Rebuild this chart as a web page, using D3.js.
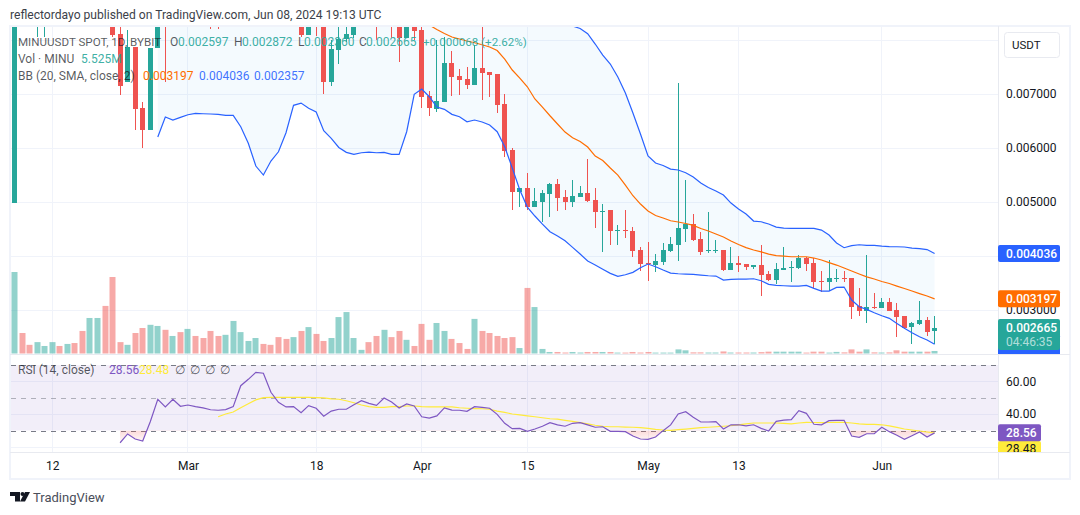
<!DOCTYPE html>
<html>
<head>
<meta charset="utf-8">
<title>MINUUSDT daily chart</title>
<script src="https://cdn.jsdelivr.net/npm/d3@7/dist/d3.min.js"></script>
<style>
html,body{margin:0;padding:0;background:#fff;}
svg{display:block;font-family:Roboto,"Noto Sans",sans-serif;}
</style>
</head>
<body>
<svg id="chart" width="1080" height="515"></svg>
<script>
// Daily candles, Feb 7 to Jun 8 2024. Prices are in millionths of a USDT.
const firstDay = new Date(Date.UTC(2024, 1, 7));
const opens = [
4971,10500,10000,9300,9700,9900,10100,9900,10300,10000,
9500,10800,11600,9600,8101,7212,7861,6731,6323,7842,
9300,8700,9000,8600,8900,8700,8800,8600,8400,8700,
9300,9800,10000,10400,10200,9900,9300,9000,9100,8083,
8700,8400,7212,7805,8009,8083,8500,8800,8600,8300,
8700,8400,8027,8400,8175,6953,6722,6842,7564,7323,
7268,7157,7472,7398,7361,6805,5953,5175,5249,4897,
4990,5138,5323,5083,4990,5083,5157,5027,4805,4842,
4453,4471,4453,4101,3860,3823,3879,4082,4194,4490,
4582,4305,4082,4082,4101,3731,3860,3842,3786,3823,
3657,3545,3731,3768,3768,3953,3860,3527,3508,3564,
3582,3582,3064,2971,3045,3027,3138,2990,2879,2675,
2730,2805,2597];
const highs = [
11200,10900,10100,10300,10400,10600,10300,10800,10500,10200,
11400,12400,13000,10000,8500,8175,7861,6842,7842,9500,
9600,9200,9200,9100,9000,8800,9000,8700,8900,9600,
10200,10300,10900,10600,10300,10000,9500,9700,9300,9000,
8800,8600,8000,8230,8300,8700,9000,8900,8700,8800,
8800,8600,8600,8500,8300,7046,7990,8046,7786,7453,
7490,7897,8230,7398,7361,6990,5990,5249,5527,5249,
5212,5342,5416,5212,5397,5286,5786,5249,4953,4842,
4564,4842,4527,4157,4249,4027,4231,4342,7194,5397,
4768,4434,4805,4286,4101,4157,4000,3842,3823,4194,
3712,3860,4157,3897,4008,3971,3953,3712,3916,3749,
3712,3582,3397,4008,3305,3212,3212,3119,2879,2767,
3157,2860,2872];
const lows = [
4971,9500,9100,8046,8046,9400,9500,9700,9600,9000,
9300,10200,9000,8046,6972,7212,6323,5990,6323,7842,
7212,8450,8300,8400,8500,8300,8194,8194,8300,8500,
9000,9500,9800,9900,9700,9000,8800,8700,8046,8083,
8064,6990,7138,7546,7953,8027,8300,8300,7990,8250,
8027,7583,8027,7990,6731,6583,6657,6842,6953,6972,
7083,7157,6879,6935,6638,5823,4842,4897,4842,4897,
4620,4712,4823,4842,4897,5083,4990,4508,4064,4194,
4194,4323,3971,3712,3527,3693,3823,4064,3897,4249,
4268,4008,4045,4045,3712,3731,3693,3731,3749,3249,
3527,3471,3731,3508,3749,3712,3397,3323,3342,3508,
3508,2823,2879,2749,3008,3027,2971,2490,2638,2360,
2712,2508,2360];
const closes = [
10500,10000,9500,9700,9900,10100,9900,10300,10000,9500,
10800,11600,9600,8083,7138,7861,6712,6323,7842,9000,
8700,9000,8600,8900,8700,8500,8500,8400,8700,9300,
9800,10000,10400,10200,9900,9300,9000,9400,8083,8700,
8400,7212,7824,8009,8101,8500,8800,8600,8300,8700,
8300,8027,8400,8157,6935,6731,6860,7564,7305,7249,
7157,7472,7379,7342,6786,5934,5175,5249,4897,5008,
5157,5323,5064,4990,5101,5157,5008,4805,4823,4453,
4471,4453,4082,3842,3842,3897,4101,4212,4508,4582,
4286,4064,4101,4101,3731,3860,3823,3786,3823,3638,
3545,3749,3768,3786,3953,3842,3508,3508,3582,3582,
3564,3045,2971,3045,3027,3138,2971,2860,2657,2749,
2805,2582,2665];
// Traded volume in millions of MINU.
const volumes = [
179,45,19,25,16.5,25,16.5,21,23,49.5,
78,78,104.5,168,25,19,45,56,63,60.5,
52,38.5,47,54,38.5,34,49.5,38.5,41,71.5,
47,27.5,34,21,19,36,32,36,49.5,58,
43,27.5,34,80,91,34,8,25,38.5,52,
36,49.5,30,16.5,65,30,67,49.5,32,23,
10,76,49.5,45,38.5,34,36,12,144,102,
10,3.3,3.3,2.2,3.3,2.2,3.3,3.3,3.3,3.3,
2,2,3.3,2.2,3.3,2,2,2,9,7,
2.5,2.5,2.2,2.2,4.5,2.2,2.2,2.2,2.2,3,
4,4,4,4,4,2,4,4,2,3.5,
2.5,9,4,9,2.5,2.2,2.5,7,4,4,
4,4,5.525];

// Bollinger bands (20, SMA, close, 2); the series begin at candle 19.
const bbStart = 19;
const bbUpper = [
13600,13200,13190,13080,12970,12890,12840,12780,12730,12680,
12600,12500,12400,12300,12200,12100,12000,11900,11800,11700,
11600,11500,11400,11300,11200,11100,11000,10900,10800,10700,
10600,10500,10400,10300,10200,9800,9596,9621,9515,9478,
9448,9467,9371,9334,9306,9300,9262,9250,9360,9300,
9050,8850,8600,8400,8300,8250,
8203,8107,7916,7712,7546,7305,7009,6638,6249,5842,
5712,5666,5601,5583,5533,5453,5342,5258,5194,5120,
4971,4860,4768,4638,4625,4583,4527,4508,4503,4503,
4503,4503,4471,4379,4231,4144,4184,4199,4188,4188,
4175,4166,4162,4157,4138,4129,4110,4036];
const bbBasis = [
9900,9880,9850,9820,9790,9760,9730,9700,9670,9640,
9600,9560,9520,9480,9440,9400,9360,9320,9280,9240,
9200,9160,9120,9080,9040,9000,8960,8920,8880,8840,
8800,8730,8650,8550,8450,8323,
8268,8185,8111,8046,8009,7972,7940,7903,7861,7796,
7638,7435,7286,7125,6898,6749,6588,6435,6286,6181,
6110,6009,5842,5758,5620,5490,5305,5107,4953,4823,
4740,4694,4644,4620,4592,4558,4499,4453,4397,4342,
4268,4203,4147,4101,4068,4027,3999,3990,3977,3977,
3977,3953,3916,3869,3823,3768,3712,3657,3605,3564,
3518,3481,3434,3388,3342,3295,3249,3197];
const bbLower = [
6194,6564,6509,6559,6607,6633,6625,6620,6614,6596,
6596,6385,6077,5657,5490,5749,5921,6273,6781,6823,
6725,6657,6310,6170,6000,5910,5873,5903,5916,5903,
5910,5873,5873,6292,6985,7083,6940,6749,6707,6614,
6570,6477,6509,6472,6416,6292,6014,5620,5212,4897,
4731,4582,4440,4360,4273,4151,4027,3897,3823,3744,
3669,3614,3643,3688,3773,3842,3792,3731,3675,3662,
3656,3651,3638,3625,3619,3545,3558,3564,3564,3569,
3532,3466,3447,3440,3434,3434,3447,3392,3342,3342,
3410,3416,3175,3051,3003,2940,2884,2836,2743,2651,
2569,2495,2434,2357];

// RSI (14, close) and its moving average.
const rsiStart = 14;
const rsiValues = [
22.5,27.9,24.8,23.6,35.4,49.1,44.4,49.1,44.8,45.6,
44.6,43.8,42.7,42.4,42.8,44.6,57.4,61.3,65.6,65.0,
53.4,47.2,44.4,44.6,40.9,45.2,43.6,38.7,41.9,43.0,
43.0,45.8,48.2,46.6,45.4,49.9,47.4,43.8,46.2,45.0,
38.4,37.6,38.9,43.8,42.5,42.4,41.7,44.6,44.2,43.6,
39.9,34.4,31.1,31.3,29.5,30.9,32.6,34.8,33.4,32.6,
34.4,34.8,33.4,32.0,32.3,29.5,29.5,29.3,26.6,24.8,
24.6,26.0,29.9,33.4,40.1,41.5,38.1,35.2,35.2,35.4,
30.9,33.5,33.5,32.8,33.5,31.3,29.7,35.6,36.4,36.6,
42.1,40.5,33.8,33.5,36.0,36.2,36.2,26.6,25.8,28.0,
28.0,32.0,29.3,27.1,24.6,26.8,29.1,26.0,28.56];
const rsiMaStart = 27;
const rsiMaValues = [
38.4,40.1,41.3,43.9,46.4,48.7,50.1,50.3,50.3,50.3,
50.2,50.2,50.2,50.1,49.9,49.4,49.1,48.2,47.0,45.6,
44.6,44.2,44.2,44.6,44.6,45.0,45.0,44.6,44.4,44.4,
44.4,44.4,43.9,43.6,43.4,43.3,43.0,41.9,41.1,40.1,
39.5,38.9,38.4,37.8,37.2,36.9,36.2,35.6,34.8,34.0,
33.2,32.6,32.3,32.3,32.1,32.0,31.7,31.3,30.7,30.3,
30.1,30.5,30.9,31.3,31.7,32.0,32.3,32.6,32.9,33.4,
34.0,34.6,34.6,34.6,34.6,34.3,34.0,34.6,35.0,34.9,
34.8,34.9,35.0,35.0,34.6,34.0,33.8,33.7,33.5,32.8,
31.9,30.9,30.3,29.7,29.1,28.48];

// Axis ticks
const priceTicks = [3000,4000,5000,6000,7000,8000];
const priceTickLabels = ["0.003000","0.004000","0.005000","0.006000","0.007000"];
const rsiGridTicks = [20,40,60];
const rsiTickLabels = [40,60];
const timeTicks = [
  [Date.UTC(2024,1,12),"12"],[Date.UTC(2024,2,1),"Mar"],[Date.UTC(2024,2,18),"18"],
  [Date.UTC(2024,3,1),"Apr"],[Date.UTC(2024,3,15),"15"],[Date.UTC(2024,4,1),"May"],
  [Date.UTC(2024,4,13),"13"],[Date.UTC(2024,5,1),"Jun"]
];

const GREEN="#26a69a", RED="#ef5350", BLUE="#2962ff", ORANGE="#ff6d00", PURPLE="#7e57c2", YELLOW="#ffeb3b";
const GRID="#f0f3fa", FRAME="#e8eaf0", INK="#131722";
const LINE_WIDTH = 1.2;
const pane = {left:11, right:998, priceTop:27, priceBottom:354, rsiBottom:452};

const dates = opens.map((_,i)=>d3.utcDay.offset(firstDay,i));
const x = d3.scaleUtc().domain([dates[0],dates[dates.length-1]]).range([14.5,934.6]);
const yPrice = d3.scaleLinear().domain([3000,7000]).range([309.5,93.5]);
const yVol = d3.scaleLinear().domain([0,179]).range([353.5,272]);
const yRsi = d3.scaleLinear().domain([30,70]).range([430.5,365.1]);
const fmtPrice = v => (v/1e6).toFixed(6);

const svg = d3.select("#chart");
const defs = svg.append("defs");
defs.append("clipPath").attr("id","clip-price").append("rect")
  .attr("x",pane.left).attr("y",pane.priceTop).attr("width",pane.right-pane.left).attr("height",pane.priceBottom-pane.priceTop);
defs.append("clipPath").attr("id","clip-rsi").append("rect")
  .attr("x",pane.left).attr("y",pane.priceBottom).attr("width",pane.right-pane.left).attr("height",pane.rsiBottom-pane.priceBottom);
defs.append("clipPath").attr("id","clip-oversold").append("rect")
  .attr("x",pane.left).attr("y",yRsi(30)).attr("width",pane.right-pane.left).attr("height",pane.rsiBottom-yRsi(30));
defs.append("clipPath").attr("id","clip-tags-rsi").append("rect")
  .attr("x",pane.right).attr("y",pane.priceBottom).attr("width",70).attr("height",pane.rsiBottom-pane.priceBottom);
defs.append("clipPath").attr("id","clip-tags-price").append("rect")
  .attr("x",pane.right).attr("y",pane.priceTop).attr("width",70).attr("height",pane.priceBottom-pane.priceTop);
const pink = defs.append("linearGradient").attr("id","oversold-fill")
  .attr("gradientUnits","userSpaceOnUse").attr("x1",0).attr("x2",0).attr("y1",yRsi(30)).attr("y2",yRsi(30)+13);
pink.append("stop").attr("offset",0).attr("stop-color",RED).attr("stop-opacity",0.22);
pink.append("stop").attr("offset",1).attr("stop-color",RED).attr("stop-opacity",0);

// Page header
svg.append("text").attr("x",10).attr("y",19).attr("font-size",12.1).attr("fill","#3c3f4a")
  .text("reflectordayo published on TradingView.com, Jun 08, 2024 19:13 UTC");

// Frame around the widget
svg.append("rect").attr("x",10).attr("y",26).attr("width",1060).attr("height",453)
  .attr("fill","none").attr("stroke","#f0f3fa").attr("stroke-width",2);

// Grid, all panes
const grid = svg.append("g").attr("stroke",GRID).attr("stroke-width",1).attr("shape-rendering","crispEdges");
grid.selectAll("line.v").data(timeTicks).join("line").attr("class","v")
  .attr("x1",d=>Math.floor(x(new Date(d[0])))+0.5).attr("x2",d=>Math.floor(x(new Date(d[0])))+0.5)
  .attr("y1",pane.priceTop).attr("y2",pane.rsiBottom);
grid.selectAll("line.p").data(priceTicks).join("line").attr("class","p")
  .attr("x1",pane.left).attr("x2",pane.right)
  .attr("y1",d=>Math.round(yPrice(d))+0.5).attr("y2",d=>Math.round(yPrice(d))+0.5);
grid.selectAll("line.r").data(rsiGridTicks).join("line").attr("class","r")
  .attr("x1",pane.left).attr("x2",pane.right)
  .attr("y1",d=>Math.round(yRsi(d))+0.5).attr("y2",d=>Math.round(yRsi(d))+0.5);

// Price pane content
const main = svg.append("g").attr("clip-path","url(#clip-price)");

// Volume histogram
main.append("g").selectAll("rect").data(volumes).join("rect")
  .attr("x",(d,i)=>Math.floor(x(dates[i]))-2.5)
  .attr("width",6)
  .attr("y",d=>yVol(d))
  .attr("height",d=>yVol(0)-yVol(d))
  .attr("fill",(d,i)=>closes[i]>=opens[i]?GREEN:RED)
  .attr("fill-opacity",0.5);

// Band background
const bbIdx = bbUpper.map((_,k)=>k);
main.append("path").datum(bbIdx)
  .attr("d",d3.area().x(k=>x(dates[k+bbStart])).y0(k=>yPrice(bbLower[k])).y1(k=>yPrice(bbUpper[k])))
  .attr("fill","#2196f3").attr("fill-opacity",0.05);

// Candles
const candle = main.append("g").selectAll("g").data(opens).join("g")
  .attr("fill",(d,i)=>closes[i]>=opens[i]?GREEN:RED)
  .attr("shape-rendering","crispEdges");
candle.append("rect")
  .attr("x",(d,i)=>Math.floor(x(dates[i])))
  .attr("width",1)
  .attr("y",(d,i)=>Math.round(yPrice(highs[i])))
  .attr("height",(d,i)=>Math.max(1,Math.round(yPrice(lows[i]))-Math.round(yPrice(highs[i]))));
candle.append("rect")
  .attr("x",(d,i)=>Math.floor(x(dates[i]))-2)
  .attr("width",5)
  .attr("y",(d,i)=>Math.round(yPrice(Math.max(opens[i],closes[i]))))
  .attr("height",(d,i)=>Math.max(1,Math.round(yPrice(Math.min(opens[i],closes[i])))-Math.round(yPrice(Math.max(opens[i],closes[i])))));

// Band lines
const bbLine = arr => d3.line().x((v,k)=>x(dates[k+bbStart])).y(v=>yPrice(v))(arr);
main.append("path").attr("d",bbLine(bbUpper)).attr("fill","none").attr("stroke",BLUE).attr("stroke-width",LINE_WIDTH);
main.append("path").attr("d",bbLine(bbLower)).attr("fill","none").attr("stroke",BLUE).attr("stroke-width",LINE_WIDTH);
main.append("path").attr("d",bbLine(bbBasis)).attr("fill","none").attr("stroke",ORANGE).attr("stroke-width",LINE_WIDTH);

// RSI pane
const rsiPane = svg.append("g").attr("clip-path","url(#clip-rsi)");
rsiPane.append("rect").attr("x",pane.left).attr("width",pane.right-pane.left)
  .attr("y",yRsi(70)).attr("height",yRsi(30)-yRsi(70))
  .attr("fill",PURPLE).attr("fill-opacity",0.1);
[[70,"#787b86",1],[50,"#787b86",0.55],[30,"#787b86",1]].forEach(([lvl,col,op])=>{
  rsiPane.append("line").attr("x1",pane.left).attr("x2",pane.right)
    .attr("y1",Math.round(yRsi(lvl))+0.5).attr("y2",Math.round(yRsi(lvl))+0.5)
    .attr("stroke",col).attr("stroke-opacity",op).attr("stroke-dasharray","5 5").attr("shape-rendering","crispEdges");
});
rsiPane.append("g").attr("clip-path","url(#clip-oversold)").append("path")
  .attr("d",d3.area().x((v,k)=>x(dates[k+rsiStart])).y0(yRsi(30)).y1(v=>yRsi(v))(rsiValues))
  .attr("fill","url(#oversold-fill)");
rsiPane.append("path")
  .attr("d",d3.line().x((v,k)=>x(dates[k+rsiMaStart])).y(v=>yRsi(v))(rsiMaValues))
  .attr("fill","none").attr("stroke",YELLOW).attr("stroke-width",LINE_WIDTH);
rsiPane.append("path")
  .attr("d",d3.line().x((v,k)=>x(dates[k+rsiStart])).y(v=>yRsi(v))(rsiValues))
  .attr("fill","none").attr("stroke",PURPLE).attr("stroke-width",LINE_WIDTH);

// Pane separators and axis borders
const seps = svg.append("g").attr("stroke",FRAME).attr("stroke-width",1).attr("shape-rendering","crispEdges");
seps.append("line").attr("x1",10).attr("x2",1070).attr("y1",354.5).attr("y2",354.5);
seps.append("line").attr("x1",10).attr("x2",1070).attr("y1",452.5).attr("y2",452.5);
seps.append("line").attr("x1",998.5).attr("x2",998.5).attr("y1",26).attr("y2",479);

// Time axis
const timeAxis = d3.axisBottom(x).tickValues(timeTicks.map(d=>new Date(d[0])))
  .tickSize(0).tickPadding(0).tickFormat((d,i)=>timeTicks[i][1]);
const gTime = svg.append("g").attr("transform","translate(0,459)").call(timeAxis);
gTime.select(".domain").remove();
gTime.selectAll("text").attr("font-size",12).attr("fill",INK).attr("font-family","Roboto,sans-serif").attr("dy","0.9em");

// Price axis
const priceAxis = d3.axisRight(yPrice).tickValues(priceTickLabels.map(s=>+s*1e6))
  .tickSize(0).tickPadding(0).tickFormat(fmtPrice);
const gPrice = svg.append("g").attr("transform","translate(1006,0)").call(priceAxis);
gPrice.select(".domain").remove();
gPrice.selectAll("text").attr("font-size",12).attr("fill",INK).attr("font-family","Roboto,sans-serif");

// RSI axis
const rsiAxis = d3.axisRight(yRsi).tickValues(rsiTickLabels)
  .tickSize(0).tickPadding(0).tickFormat(d3.format(".2f"));
const gRsi = svg.append("g").attr("transform","translate(1006,0)").call(rsiAxis);
gRsi.select(".domain").remove();
gRsi.selectAll("text").attr("font-size",12).attr("fill",INK).attr("font-family","Roboto,sans-serif");

// Currency button
svg.append("rect").attr("x",1004.5).attr("y",32.5).attr("width",55).attr("height",25).attr("rx",3)
  .attr("fill","#fff").attr("stroke",FRAME);
svg.append("text").attr("x",1012).attr("y",49).attr("font-size",11.5).attr("fill",INK).text("USDT");

// Price tags on the axis
const tagsPrice = svg.append("g").attr("clip-path","url(#clip-tags-price)");
const lastIdx = closes.length-1;
const lastLower = bbLower[bbLower.length-1], lastUpper = bbUpper[bbUpper.length-1], lastBasis = bbBasis[bbBasis.length-1];
tagsPrice.append("rect").attr("x",pane.right).attr("width",62).attr("rx",2)
  .attr("y",yPrice(lastLower)-10).attr("height",21).attr("fill",BLUE);
function priceTag(v,color){
  const yy = yPrice(v);
  tagsPrice.append("rect").attr("x",pane.right).attr("width",62).attr("rx",2)
    .attr("y",yy-8.5).attr("height",17).attr("fill",color);
  tagsPrice.append("text").attr("x",1006).attr("y",yy+4.2).attr("font-size",12).attr("font-weight",500)
    .attr("fill","#fff").text(fmtPrice(v));
}
priceTag(lastUpper,BLUE);
priceTag(lastBasis,ORANGE);
const yLast = yPrice(closes[lastIdx]);
tagsPrice.append("rect").attr("x",pane.right).attr("width",62).attr("rx",2)
  .attr("y",yLast-8.5).attr("height",31).attr("fill",GREEN);
tagsPrice.append("text").attr("x",1006).attr("y",yLast+4.2).attr("font-size",12).attr("font-weight",500)
  .attr("fill","#fff").text(fmtPrice(closes[lastIdx]));
tagsPrice.append("text").attr("x",1006).attr("y",yLast+18).attr("font-size",12)
  .attr("fill","#fff").attr("fill-opacity",0.65).text("04:46:35");

// RSI tags
const tagsRsi = svg.append("g").attr("clip-path","url(#clip-tags-rsi)");
const lastRsi = rsiValues[rsiValues.length-1], lastMa = rsiMaValues[rsiMaValues.length-1];
tagsRsi.append("rect").attr("x",pane.right).attr("width",43).attr("y",yRsi(lastMa)+8).attr("height",18).attr("rx",2).attr("fill",YELLOW);
tagsRsi.append("text").attr("x",1006).attr("y",yRsi(lastMa)+20.5).attr("font-size",12).attr("fill",INK).text(d3.format(".2f")(lastMa));
tagsRsi.append("rect").attr("x",pane.right).attr("width",43).attr("y",yRsi(lastRsi)-8.5).attr("height",17).attr("rx",2).attr("fill",PURPLE);
tagsRsi.append("text").attr("x",1006).attr("y",yRsi(lastRsi)+4.2).attr("font-size",12).attr("font-weight",500).attr("fill","#fff").text(d3.format(".2f")(lastRsi));

// Legends
const legend = svg.append("g").attr("font-size",12);
function legendRun(y, runs){
  runs.forEach(([tx,text,color,op,size])=>{
    legend.append("text").attr("x",tx).attr("y",y).attr("fill",color)
      .attr("font-size",size||12)
      .attr("fill-opacity",op===undefined?1:op).text(text);
  });
}
const LABEL="#131722", LOP=0.72, TEAL=GREEN;
const change = closes[lastIdx]-opens[lastIdx];
legendRun(46,[
  [18,"MINUUSDT SPOT, 1D, BYBIT",LABEL,LOP,11.6],
  [170,"O",LABEL,LOP],[178,fmtPrice(opens[lastIdx]),TEAL,0.9],
  [234,"H",LABEL,LOP],[242,fmtPrice(highs[lastIdx]),TEAL,0.9],
  [298,"L",LABEL,LOP],[304,fmtPrice(lows[lastIdx]),TEAL,0.9],
  [359,"C",LABEL,LOP],[366,fmtPrice(closes[lastIdx]),TEAL,0.9],
  [423,"+"+fmtPrice(change)+" (+"+(change/opens[lastIdx]*100).toFixed(2)+"%)",TEAL,0.9,11.6]
]);
legendRun(63,[[18,"Vol · MINU",LABEL,LOP],[81,"5.525M",TEAL,0.9]]);
legendRun(80,[
  [18,"BB (20, SMA, close, 2)",LABEL,LOP],
  [143,fmtPrice(lastBasis),ORANGE,1],[199,fmtPrice(lastUpper),BLUE,0.9],[254,fmtPrice(lastLower),BLUE,0.9]
]);
legendRun(374,[
  [18,"RSI (14, close)",LABEL,LOP],
  [109,d3.format(".2f")(lastRsi),PURPLE,1],[139,d3.format(".2f")(lastMa),YELLOW,1],
  [175,"∅",LABEL,LOP],[190,"∅",LABEL,LOP],[205,"∅",LABEL,LOP],[220,"∅",LABEL,LOP]
]);

// Footer brand mark
const brand = svg.append("g").attr("fill","#131722");
brand.append("path").attr("d","M10 492h10v9.5h-5v-5.5h-5z");
brand.append("circle").attr("cx",22.5).attr("cy",494).attr("r",2);
brand.append("path").attr("d","M25 492h5l-5 9.5h-5z");
svg.append("text").attr("x",33).attr("y",502).attr("font-size",13).attr("fill","#4a4e5a").text("TradingView");
</script>
</body>
</html>
